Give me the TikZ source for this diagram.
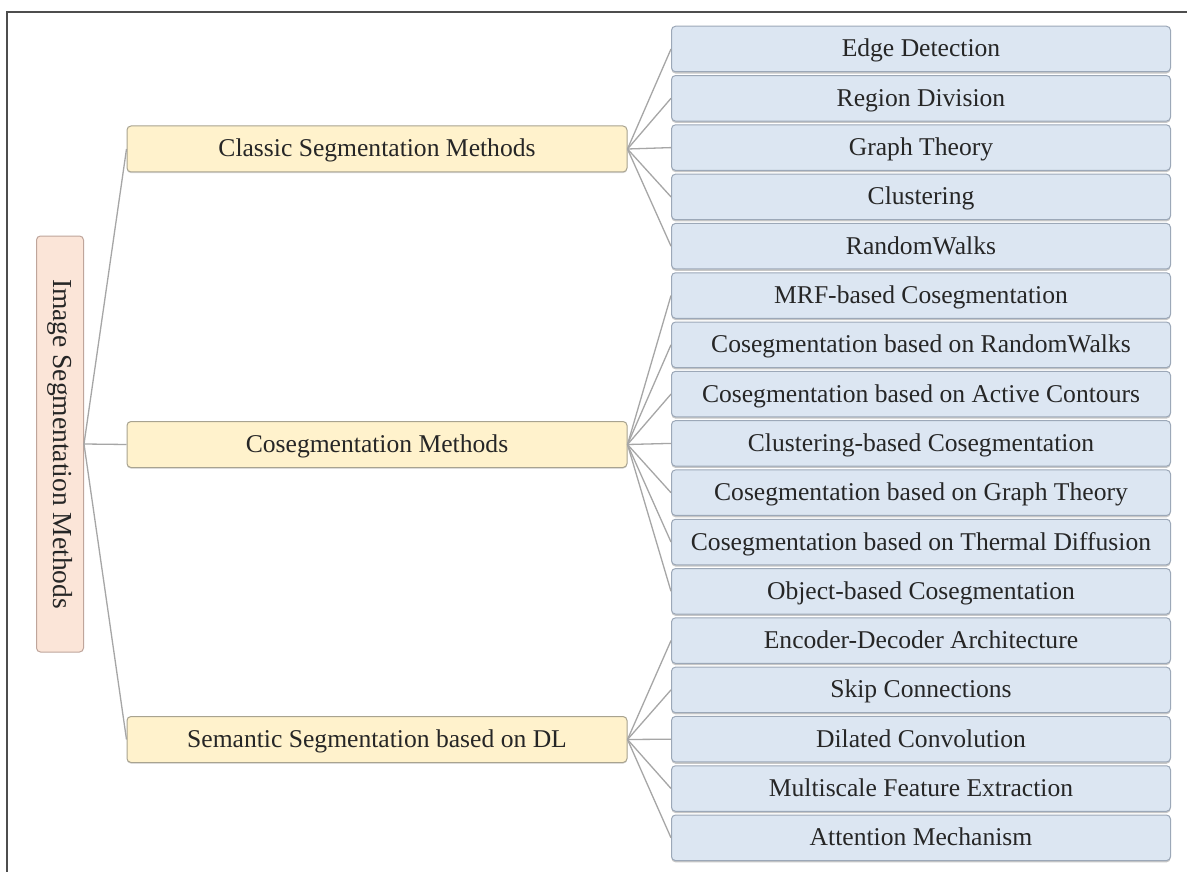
\documentclass[tikz,border=0pt]{standalone}
\usepackage{fontspec}
\setmainfont{Liberation Serif}
\usetikzlibrary{shadows}

\definecolor{framecol}{HTML}{4D4D4D}
\definecolor{rootfill}{HTML}{FBE5D8}
\definecolor{rootdraw}{HTML}{BFA59B}
\definecolor{midfill}{HTML}{FFF2CC}
\definecolor{middraw}{HTML}{A8A390}
\definecolor{leaffill}{HTML}{DCE6F2}
\definecolor{leafdraw}{HTML}{9CA8B8}
\definecolor{linkcol}{HTML}{A6A6A6}
\definecolor{txtcol}{HTML}{262626}

\tikzset{
  boxbase/.style={rounded corners=4pt, line width=1pt, inner sep=0pt,
    text=txtcol, font=\fontsize{25.6}{30}\selectfont, align=center,
    text height=19pt, text depth=3pt},
  rootbox/.style={rounded corners=4pt, line width=1pt, inner sep=0pt,
    text=txtcol, font=\fontsize{27.5}{32}\selectfont,
    fill=rootfill, draw=rootdraw,
    minimum width=47pt, minimum height=416pt},
  midbox/.style={boxbase, fill=midfill, draw=middraw,
    minimum width=500pt, minimum height=46pt,
    drop shadow={shadow xshift=0pt, shadow yshift=-1.2pt, fill=black!30, opacity=.5}},
  leafbox/.style={boxbase, fill=leaffill, draw=leafdraw,
    minimum width=499pt, minimum height=45.5pt,
    drop shadow={shadow xshift=0pt, shadow yshift=-1.8pt, fill=black!40, opacity=.55}},
  link/.style={draw=linkcol, line width=1.3pt}
}

\begin{document}
\begin{tikzpicture}[x=1pt, y=-1pt]
\useasboundingbox (0,0) rectangle (1187,872);
\fill[white] (0,0) rectangle (1187,872);
% outer frame (top and left edges)
\draw[framecol, line width=1.5pt] (1187,12) -- (7,12) -- (7,872);

% root
\node[rootbox] (root) at (60,444) {\rotatebox{-90}{Image Segmentation Methods}};

% second level
\node[midbox] (classic) at (377,149) {Classic Segmentation Methods};
\node[midbox] (coseg)   at (377,444.5) {Cosegmentation Methods};
\node[midbox] (dl)      at (377,739.5) {Semantic Segmentation based on DL};

% leaves
\foreach \t [count=\i from 0] in {
  Edge Detection,
  Region Division,
  Graph Theory,
  Clustering,
  RandomWalks,
  MRF-based Cosegmentation,
  Cosegmentation based on RandomWalks,
  Cosegmentation based on Active Contours,
  Clustering-based Cosegmentation,
  Cosegmentation based on Graph Theory,
  Cosegmentation based on Thermal Diffusion,
  Object-based Cosegmentation,
  Encoder-Decoder Architecture,
  Skip Connections,
  Dilated Convolution,
  Multiscale Feature Extraction,
  Attention Mechanism}
  \node[leafbox] (l\i) at (921,{49+49.3*\i}) {\t};

% connectors
\foreach \m in {classic,coseg,dl}
  \draw[link] (root.east) -- (\m.west);
\foreach \i in {0,...,4}
  \draw[link] (classic.east) -- (l\i.west);
\foreach \i in {5,...,11}
  \draw[link] (coseg.east) -- (l\i.west);
\foreach \i in {12,...,16}
  \draw[link] (dl.east) -- (l\i.west);
\end{tikzpicture}
\end{document}
